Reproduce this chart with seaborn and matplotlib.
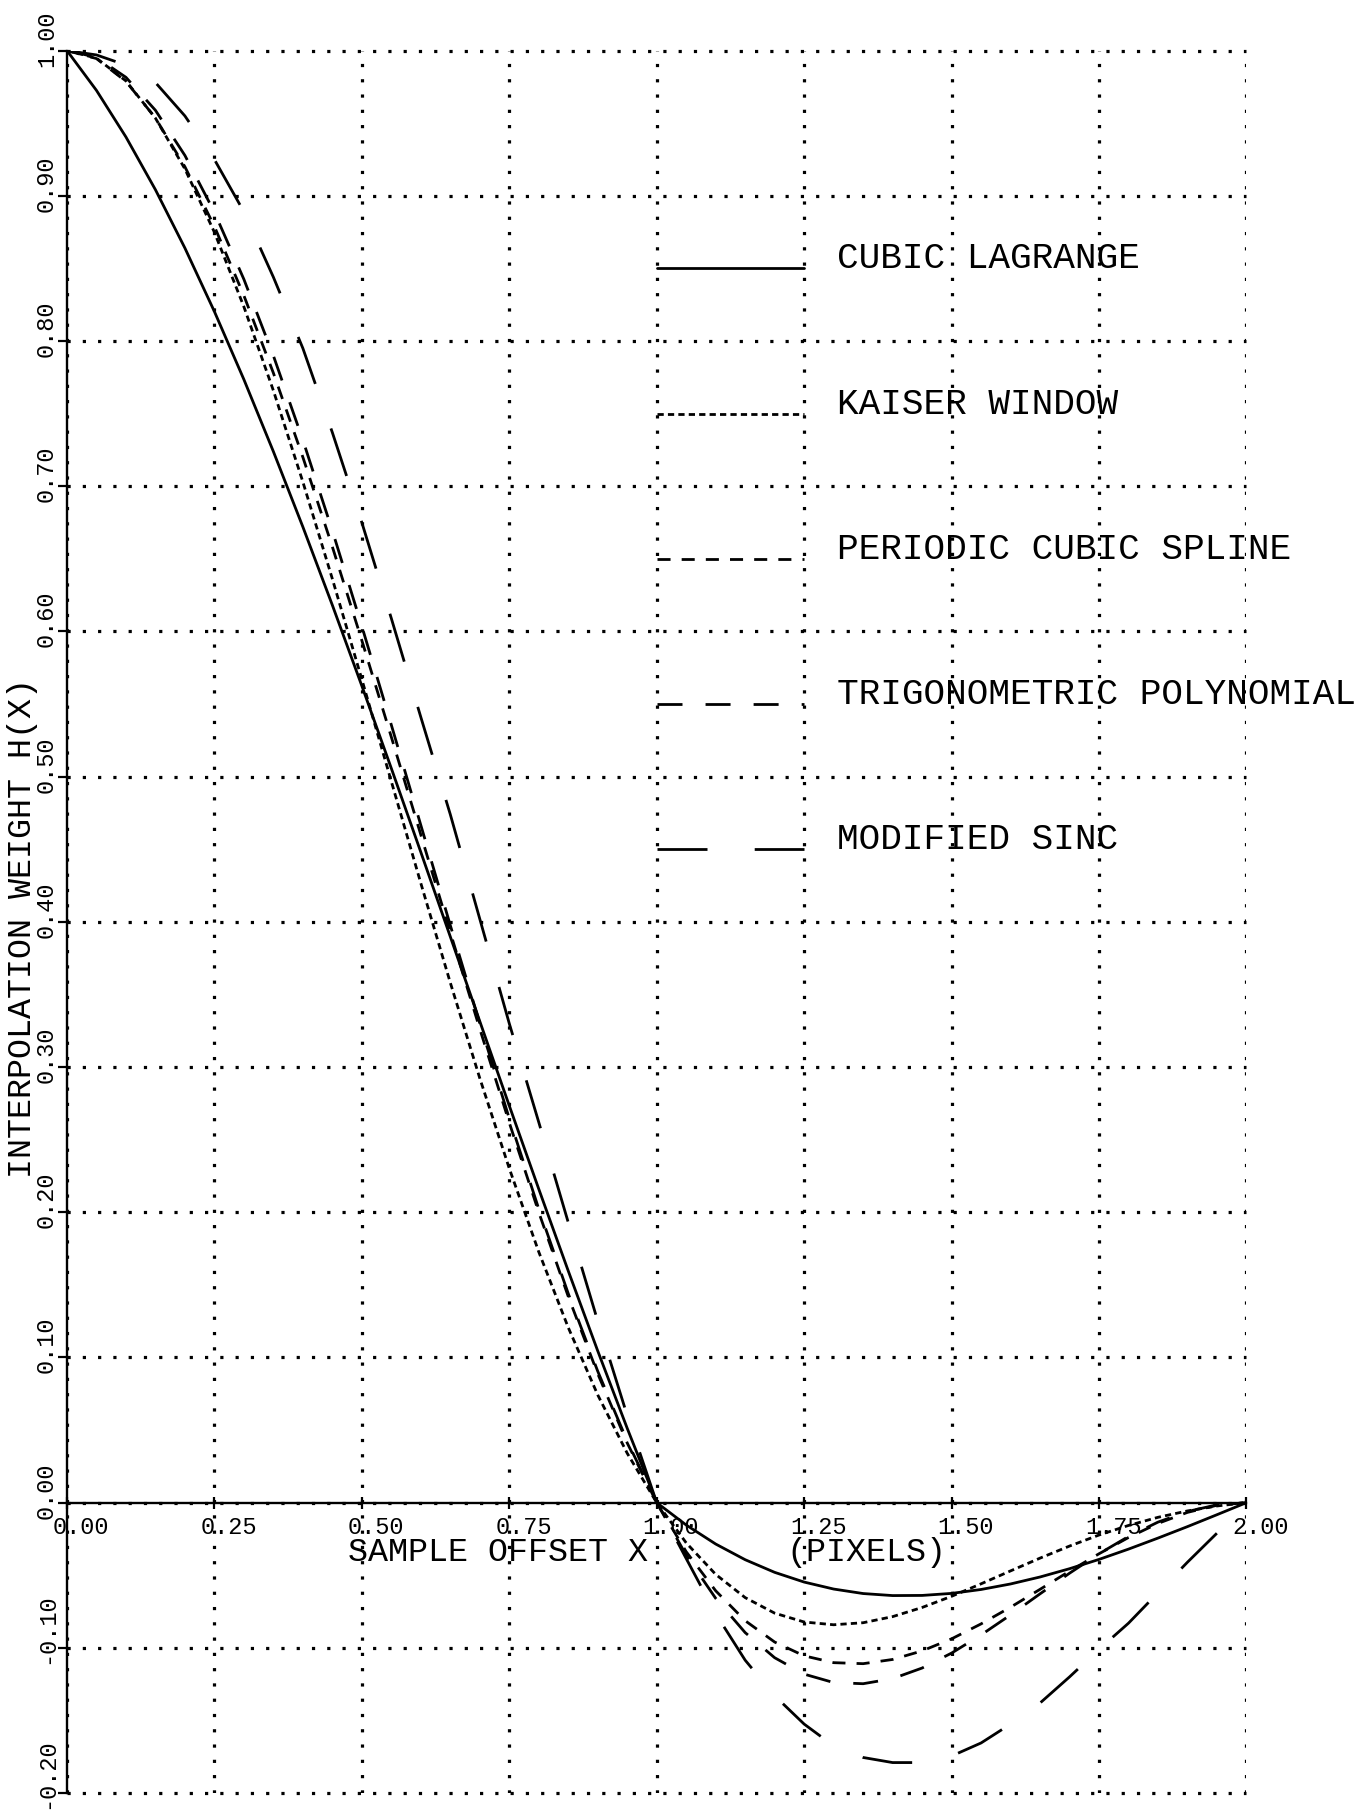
import matplotlib
matplotlib.use("Agg")
import matplotlib.pyplot as plt
import matplotlib.transforms as mtransforms
import pandas as pd
import seaborn as sns

# ---------------- data ----------------
x_offset = [0.00, 0.05, 0.10, 0.15, 0.20, 0.25, 0.30, 0.35, 0.40, 0.45,
            0.50, 0.55, 0.60, 0.65, 0.70, 0.75, 0.80, 0.85, 0.90, 0.95,
            1.00, 1.05, 1.10, 1.15, 1.20, 1.25, 1.30, 1.35, 1.40, 1.45,
            1.50, 1.55, 1.60, 1.65, 1.70, 1.75, 1.80, 1.85, 1.90, 1.95, 2.00]

cubic_lagrange = [1.0000, 0.9726, 0.9405, 0.9042, 0.8640, 0.8203, 0.7735, 0.7239, 0.6720, 0.6181,
                  0.5625, 0.5057, 0.4480, 0.3898, 0.3315, 0.2734, 0.2160, 0.1596, 0.1045, 0.0512,
                  0.0000, -0.0154, -0.0285, -0.0393, -0.0480, -0.0547, -0.0595, -0.0626, -0.0640, -0.0639,
                  -0.0625, -0.0598, -0.0560, -0.0512, -0.0455, -0.0391, -0.0320, -0.0244, -0.0165, -0.0083, 0.0000]

kaiser_window = [1.0000, 0.9948, 0.9791, 0.9535, 0.9185, 0.8749, 0.8236, 0.7659, 0.7030, 0.6362,
                 0.5670, 0.4967, 0.4266, 0.3581, 0.2923, 0.2302, 0.1727, 0.1206, 0.0742, 0.0340,
                 0.0000, -0.0277, -0.0494, -0.0654, -0.0761, -0.0822, -0.0841, -0.0827, -0.0785, -0.0722,
                 -0.0645, -0.0559, -0.0470, -0.0382, -0.0299, -0.0223, -0.0157, -0.0101, -0.0057, -0.0023, 0.0000]

periodic_cubic_spline = [1.0000, 0.9945, 0.9788, 0.9536, 0.9200, 0.8789, 0.8313, 0.7780, 0.7200, 0.6583,
                         0.5938, 0.5273, 0.4600, 0.3927, 0.3263, 0.2617, 0.2000, 0.1420, 0.0888, 0.0411,
                         0.0000, -0.0338, -0.0607, -0.0813, -0.0960, -0.1055, -0.1102, -0.1109, -0.1080, -0.1021,
                         -0.0938, -0.0835, -0.0720, -0.0597, -0.0472, -0.0352, -0.0240, -0.0143, -0.0067, -0.0018, 0.0000]

trigonometric_polynomial = [1.0000, 0.9954, 0.9816, 0.9589, 0.9278, 0.8887, 0.8425, 0.7899, 0.7318, 0.6694,
                            0.6036, 0.5356, 0.4666, 0.3976, 0.3301, 0.2646, 0.2023, 0.1440, 0.0905, 0.0423,
                            0.0000, -0.0362, -0.0659, -0.0895, -0.1068, -0.1181, -0.1239, -0.1247, -0.1212, -0.1139,
                            -0.1036, -0.0911, -0.0773, -0.0628, -0.0486, -0.0352, -0.0233, -0.0134, -0.0061, -0.0015, 0.0000]

modified_sinc = [1.000, 0.997, 0.990, 0.978, 0.955, 0.925, 0.889, 0.844, 0.795, 0.737,
                 0.675, 0.609, 0.541, 0.474, 0.402, 0.330, 0.262, 0.193, 0.125, 0.060,
                 0.000, -0.0385, -0.0765, -0.1085, -0.1330, -0.1525, -0.1675, -0.1755, -0.1790, -0.1790,
                 -0.1745, -0.1655, -0.1525, -0.1380, -0.1200, -0.1010, -0.0830, -0.0620, -0.0410, -0.0210, 0.000]

series_names = ["CUBIC LAGRANGE", "KAISER WINDOW", "PERIODIC CUBIC SPLINE",
                "TRIGONOMETRIC POLYNOMIAL", "MODIFIED SINC"]
series_values = [cubic_lagrange, kaiser_window, periodic_cubic_spline,
                 trigonometric_polynomial, modified_sinc]

x_ticks = [0.00, 0.25, 0.50, 0.75, 1.00, 1.25, 1.50, 1.75, 2.00]
x_tick_labels = ["0.00", "0.25", "0.50", "0.75", "1.00", "1.25", "1.50", "1.75", "2.00"]
y_ticks = [-0.20, -0.10, 0.00, 0.10, 0.20, 0.30, 0.40, 0.50, 0.60, 0.70, 0.80, 0.90, 1.00]
y_tick_labels = ["-0.20", "-0.10", "0.00", "0.10", "0.20", "0.30", "0.40",
                 "0.50", "0.60", "0.70", "0.80", "0.90", "1.00"]

legend_x = [1.00, 1.25]
legend_y = [0.85, 0.75, 0.65, 0.55, 0.45]

# ---------------- style ----------------
sns.set_theme(style="white")
plt.rcParams["font.family"] = ["Liberation Mono", "DejaVu Sans Mono"]
plt.rcParams["lines.scale_dashes"] = False
plt.rcParams["axes.unicode_minus"] = False

LW = 2.0
dash_styles = {
    "CUBIC LAGRANGE": "",
    "KAISER WINDOW": (4.5, 3.0),
    "PERIODIC CUBIC SPLINE": (9.4, 8.0),
    "TRIGONOMETRIC POLYNOMIAL": (18.0, 16.6),
    "MODIFIED SINC": (36.0, 34.0),
}

rows = []
for name, vals in zip(series_names, series_values):
    for xv, yv in zip(x_offset, vals):
        rows.append({"x": xv, "h": yv, "kernel": name})
df = pd.DataFrame(rows)

fig = plt.figure(figsize=(13.72, 18.13), dpi=100)
fig.patch.set_facecolor("white")
ax = fig.add_axes([0.0488, 0.0110, 0.8597, 0.9611])
ax.set_facecolor("white")

sns.lineplot(data=df, x="x", y="h", style="kernel", dashes=dash_styles,
             color="black", linewidth=LW, legend=False, sort=False,
             estimator=None, ax=ax)

ax.set_xlim(0, 2)
ax.set_ylim(-0.2, 1.0)
ax.set_xticks(x_ticks)
ax.set_yticks(y_ticks)
ax.set_xlabel("")
ax.set_ylabel("")

# dotted grid (plotter style, bold square dots)
ax.grid(True, color="black", linewidth=2.3, linestyle=(0, (2.3, 8.7)))
for gl in ax.get_xgridlines() + ax.get_ygridlines():
    gl.set_clip_on(False)
    gl.set_dash_capstyle("butt")
ax.set_axisbelow(True)

# spines
for side in ["top", "right"]:
    ax.spines[side].set_visible(False)
ax.spines["left"].set_color("black")
ax.spines["left"].set_linewidth(1.7)
ax.spines["bottom"].set_position(("data", 0))
ax.spines["bottom"].set_bounds(0, 2)
ax.spines["bottom"].set_color("black")
ax.spines["bottom"].set_linewidth(1.7)

ax.tick_params(axis="x", bottom=True, direction="inout", length=9, width=1.6,
               color="black", labelbottom=False)
ax.tick_params(axis="y", left=True, direction="out", length=6.5, width=1.6,
               color="black", labelleft=False)

# tick labels
for xv, lab in zip(x_ticks, x_tick_labels):
    tr = mtransforms.offset_copy(ax.transData, fig=fig, x=-14, y=-31, units="dots")
    ax.text(xv, 0, lab, transform=tr, ha="left", va="baseline", fontsize=17,
            color="black", clip_on=False)
for yv, lab in zip(y_ticks, y_tick_labels):
    tr = mtransforms.offset_copy(ax.transData, fig=fig, x=-14, y=-16, units="dots")
    ax.text(0, yv, lab, transform=tr, rotation=90, rotation_mode="anchor",
            ha="left", va="baseline", fontsize=17, color="black", clip_on=False)

# axis titles
ax.text(0.4766, -0.040, "SAMPLE OFFSET X", ha="left", va="baseline",
        fontsize=24, color="black")
ax.text(1.2206, -0.040, "(PIXELS)", ha="left", va="baseline",
        fontsize=24, color="black")
tr = mtransforms.offset_copy(ax.transData, fig=fig, x=-36, y=0, units="dots")
ax.text(0, 0.3954, "INTERPOLATION WEIGHT H(X)", transform=tr, rotation=90,
        rotation_mode="anchor", ha="center", va="baseline", fontsize=24,
        color="black", clip_on=False)

# in-plot legend
for name, ly in zip(series_names, legend_y):
    d = dash_styles[name]
    kw = {} if d == "" else {"dashes": d}
    ax.plot(legend_x, [ly, ly], color="black", linewidth=LW, **kw)
    ax.text(1.306, ly, name, ha="left", va="baseline", fontsize=26,
            color="black", clip_on=False)

fig.savefig("out.png", dpi=100, facecolor="white")
